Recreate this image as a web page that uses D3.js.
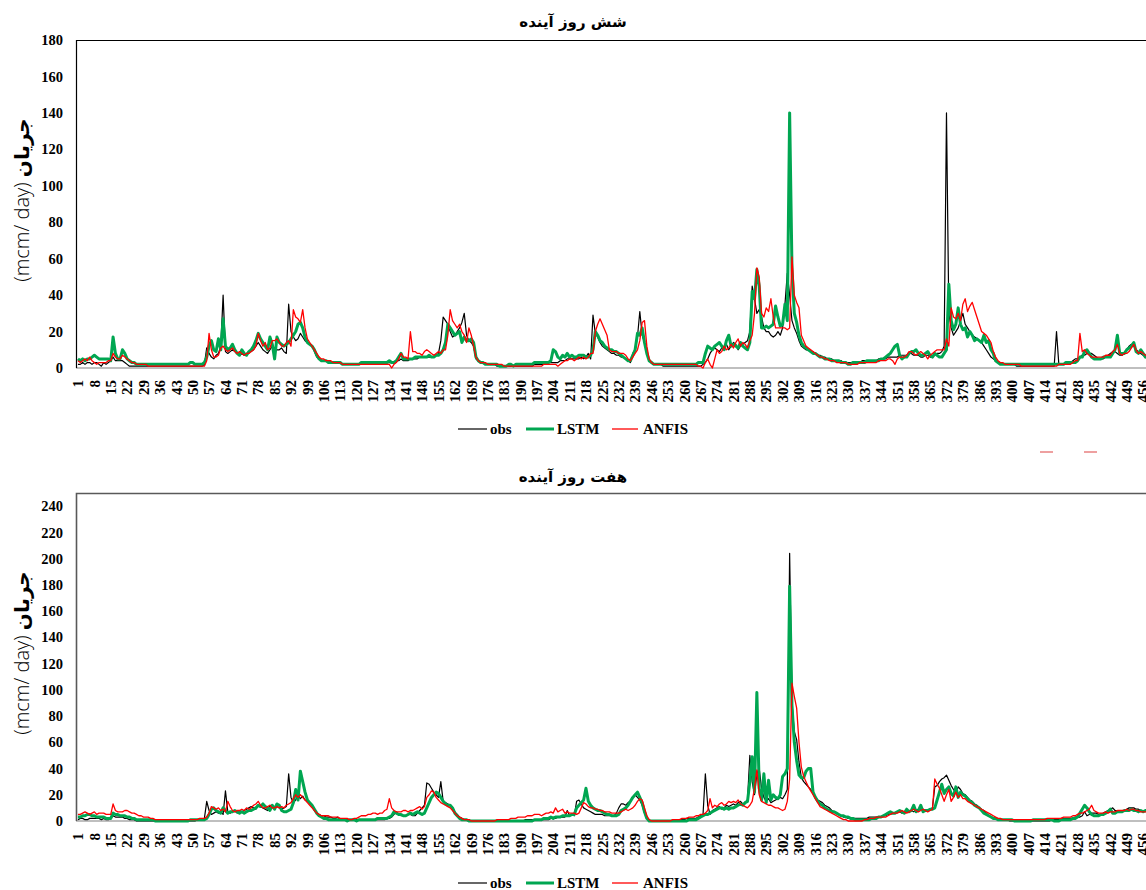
<!DOCTYPE html>
<html>
<head>
<meta charset="utf-8">
<script src="https://cdn.jsdelivr.net/npm/d3@7"></script>
<style>
  body { margin: 0; background: #fff; }
  svg { display: block; }
</style>
</head>
<body>
<div id="chart"></div>
<script>
const width = 1146
const height = 890

// day index (category axis), 460 days
const days = d3.range(1, 461)
const tickDays = d3.range(1, 457, 7)

// six days ahead
const obs6 = [
  2,2,3,2,3,3,2,3,3,2, 1,3,2,3,4,6,4,4,4,4, 3,2,1,1,1,1,1,1,1,1, 1,1,1,1,1,1,1,1,1,1,
  1,1,1,1,1,1,1,1,1,1, 1,1,1,1,2,11,8,6,5,7, 8,12,40,9,8,9,10,9,8,7, 8,7,8,9,9,10,12,14,12,10,
  9,8,10,12,11,10,10,11,9,8, 35,20,17,15,16,19,17,15,14,13, 12,9,6,5,4,4,4,3,3,3, 3,3,3,2,2,2,2,2,2,2,
  2,2,2,2,2,2,2,2,2,2, 3,3,3,3,3,3,4,4,5,4, 4,4,5,5,5,5,6,6,6,6, 6,6,6,7,8,15,28,26,24,20,
  17,18,20,22,25,30,18,15,14,12, 5,4,3,3,2,2,2,2,2,1, 1,1,1,1,1,1,1,1,1,1, 1,1,1,1,1,2,2,2,2,2,
  2,3,3,3,3,3,4,4,4,5, 5,5,5,5,5,6,5,6,8,5, 29,19,17,14,12,11,10,9,8,8, 7,7,6,6,5,4,3,8,10,17,
  31,18,14,8,4,3,2,2,2,2, 1,1,1,1,1,1,1,1,1,1, 1,1,1,1,1,1,1,2,3,5, 8,10,11,10,9,11,12,13,10,12,
  14,13,10,12,13,14,15,20,45,38, 30,32,28,22,20,20,18,17,18,20, 18,22,35,52,40,26,22,19,15,12, 11,10,10,9,9,8,7,7,6,6,
  5,5,5,4,4,4,4,3,3,3, 3,3,3,3,3,4,4,4,4,4, 4,4,5,5,5,5,6,6,6,6, 6,7,7,7,7,8,8,7,7,7,
  6,6,7,7,6,6,7,8,8,9, 12,140,30,22,18,20,22,26,30,24, 22,20,18,17,16,15,14,12,10,8, 6,5,4,3,2,2,2,2,2,2,
  2,1,1,1,1,1,1,1,1,1, 1,1,1,1,1,1,1,1,20,2, 2,2,2,2,3,4,5,5,6,7, 7,8,8,8,7,6,5,5,5,6,
  7,8,9,9,8,7,7,8,10,12, 13,12,10,9,8,7,6,6,6,6
]
const lstm6 = [
  5,4,5,4,5,5,6,7,6,5, 5,5,5,5,4,17,8,5,5,10, 8,5,4,3,3,2,2,2,2,2, 2,2,2,2,2,2,2,2,2,2,
  2,2,2,2,2,2,2,2,3,3, 2,2,2,2,3,6,12,15,10,9, 16,10,27,12,10,11,13,10,8,7, 10,8,7,9,10,12,15,19,16,14,
  12,10,17,13,5,17,14,13,12,13, 14,16,18,20,24,25,22,17,14,13, 12,10,7,5,4,4,4,3,3,3, 3,3,3,2,2,2,2,2,2,2,
  2,3,3,3,3,3,3,3,3,3, 3,3,3,4,3,3,4,6,8,5, 5,5,5,5,6,6,6,6,6,6, 7,6,6,7,7,8,10,14,24,22,
  20,18,19,20,14,17,15,15,16,14, 6,4,3,3,2,2,2,2,2,2, 1,1,1,1,2,2,1,2,2,2, 2,2,2,2,2,3,3,3,3,3,
  3,3,4,10,9,6,5,7,6,8, 6,7,6,6,7,7,7,6,6,7, 10,20,18,15,14,12,11,10,10,9, 9,8,7,6,5,4,4,7,10,19,
  18,22,14,8,4,3,2,2,2,2, 2,2,2,2,2,2,2,2,2,2, 2,2,2,2,2,3,3,3,8,12, 11,10,12,13,14,12,10,15,18,12,
  13,12,11,14,12,11,10,14,42,38, 54,45,22,22,23,22,23,24,34,28, 23,24,35,26,140,55,30,25,18,14, 12,11,10,9,8,8,7,6,6,5,
  5,5,4,4,4,4,3,3,3,2, 2,3,3,3,3,3,3,4,4,4, 4,4,4,5,5,6,7,8,10,12, 13,7,5,6,6,8,9,9,10,8,
  7,7,8,9,7,6,8,7,6,6, 8,10,46,26,21,24,33,24,21,22, 17,20,18,15,16,15,14,18,14,15, 10,8,4,3,2,2,2,2,2,2,
  2,2,2,2,2,2,2,2,2,2, 2,2,2,2,2,2,2,2,2,2, 2,2,3,3,3,3,3,4,6,6, 9,10,8,6,5,5,5,5,6,6,
  6,6,8,10,18,8,8,8,10,11, 12,14,9,8,10,8,6,8,7,7
]
const anfis6 = [
  4,3,4,5,4,6,4,3,2,3, 3,3,3,4,4,8,6,5,5,7, 6,5,4,3,3,2,2,2,2,2, 1,1,1,1,1,1,1,1,1,1,
  1,1,1,1,1,1,1,1,1,1, 1,1,1,1,1,4,19,10,6,6, 7,11,12,10,9,10,11,9,8,9, 8,7,8,8,9,10,12,19,15,12,
  14,10,11,15,15,16,14,12,12,14, 15,12,32,28,27,25,32,22,16,14, 12,10,8,6,5,5,4,4,4,3, 3,3,3,2,2,2,2,2,2,2,
  2,2,2,2,2,2,2,2,2,2, 2,2,2,2,0,2,3,5,8,6, 6,5,20,9,9,8,8,7,9,10, 9,8,7,8,9,8,10,10,18,32,
  26,24,22,24,20,18,14,22,18,12, 6,4,3,3,3,2,2,2,2,2, 2,2,1,1,1,1,1,1,1,1, 1,1,1,1,1,1,1,1,1,2,
  2,2,2,2,2,1,2,3,4,4, 5,5,4,5,6,5,6,5,6,8, 8,20,24,27,24,21,18,10,9,9, 9,8,8,8,7,5,4,6,8,10,
  15,25,26,12,5,3,2,2,2,2, 2,2,2,2,2,2,2,2,2,2, 2,2,2,2,2,1,1,0,3,5, 2,0,5,10,8,9,12,10,11,13,
  11,14,16,12,14,13,11,15,18,30, 55,50,30,28,33,31,38,28,22,22, 22,22,22,21,22,61,40,36,33,18, 15,12,11,10,9,8,7,6,6,5,
  5,4,4,4,3,3,3,3,3,2, 2,2,2,2,3,3,3,3,3,3, 3,3,4,4,4,4,5,5,4,2, 5,6,6,6,7,9,9,8,7,8,
  9,8,7,5,7,8,9,10,10,10, 10,16,12,33,28,27,30,26,35,38, 31,34,36,32,28,24,20,19,18,16, 14,9,6,4,3,3,2,2,2,2,
  2,2,2,1,1,1,1,1,1,1, 1,1,1,1,1,1,1,1,1,2, 2,2,2,2,2,3,4,4,19,9, 10,8,7,6,6,6,6,6,6,7,
  7,7,9,10,13,8,7,8,8,9, 11,13,10,8,9,8,7,6,7,7
]

// seven days ahead
const obs7 = [
  1,2,2,1,1,2,2,2,2,2, 1,2,1,1,2,4,3,3,3,3, 2,2,1,1,1,0,0,0,0,0, 0,0,0,0,0,0,0,0,0,0,
  0,0,0,0,0,0,0,0,0,0, 0,1,1,1,2,15,8,5,6,7, 6,7,5,23,7,6,7,8,6,8, 7,8,9,10,11,10,9,12,11,10,
  9,8,12,11,10,11,10,9,10,11, 36,18,14,16,20,17,19,16,15,14, 12,8,6,5,4,4,3,3,3,2, 2,3,1,1,1,1,1,1,1,1,
  1,1,1,1,1,1,1,1,1,1, 1,1,2,2,3,5,7,5,4,4, 4,5,5,4,4,6,8,10,12,29, 28,25,22,20,18,30,15,14,13,12,
  10,7,5,3,2,1,1,1,0,0, 0,0,0,0,0,0,0,0,0,0, 0,0,0,0,0,0,0,0,0,0, 0,1,1,1,1,1,1,1,1,1,
  1,1,2,2,2,3,3,3,3,8, 4,5,4,15,16,13,10,9,8,7, 6,5,5,5,5,4,4,4,4,4, 6,10,13,13,12,14,15,18,20,18,
  16,12,6,2,0,0,0,0,0,0, 0,0,0,0,0,0,0,1,1,1, 2,2,2,2,2,3,4,5,36,12, 5,8,9,10,11,9,10,12,11,12,
  13,12,14,15,13,14,16,50,30,20, 36,40,25,18,15,17,14,15,16,17, 18,17,20,24,204,90,68,62,45,33, 30,28,26,24,21,18,16,15,14,12,
  11,10,8,7,6,5,4,3,3,2, 2,2,2,2,2,2,2,2,3,3, 3,3,3,3,4,4,5,5,6,6, 7,7,6,7,7,8,8,7,8,9,
  9,9,8,8,9,10,26,27,30,32, 33,35,31,27,24,22,26,24,21,20, 18,16,15,13,12,10,9,8,6,4, 3,2,2,1,1,1,1,1,0,0,
  0,0,0,0,0,0,0,0,0,0, 0,0,0,0,0,0,1,1,1,1, 2,2,2,2,2,2,3,3,3,4, 7,4,5,6,6,6,5,5,6,7,
  8,9,10,8,8,7,8,8,9,10, 10,10,9,9,8,8,8,8,8,8
]
const lstm7 = [
  3,3,4,4,5,5,4,4,3,3, 3,3,2,2,2,6,5,5,4,4, 4,3,3,2,2,1,1,1,1,1, 1,1,1,0,0,0,0,0,0,0,
  0,0,0,0,0,0,0,0,1,1, 1,1,1,1,1,2,5,9,10,8, 7,6,10,8,6,7,7,8,7,6, 7,6,7,8,8,9,10,12,11,13,
  11,10,8,12,9,13,12,8,7,7, 8,9,14,24,16,38,30,22,16,14, 12,9,6,4,3,2,2,1,1,1, 1,1,1,1,1,0,1,1,1,0,
  1,1,1,1,1,1,1,1,2,2, 2,2,2,3,4,7,6,5,5,4, 4,5,6,5,6,7,6,5,6,10, 14,18,20,22,21,18,15,13,12,12,
  10,6,4,2,1,1,1,0,0,0, 0,0,0,0,0,0,0,0,0,0, 0,0,0,0,0,0,0,0,0,0, 0,0,0,0,0,1,1,1,1,2,
  2,2,3,2,3,3,3,4,4,4, 4,5,5,10,12,14,16,25,15,12, 10,9,8,8,7,6,5,5,4,4, 4,5,8,9,10,12,15,18,20,22,
  18,14,7,2,0,0,0,0,0,0, 0,0,0,0,0,0,0,0,0,0, 0,1,1,1,1,2,3,4,5,5, 6,7,8,9,10,10,9,10,9,10,
  10,11,12,13,12,14,15,30,49,22, 98,25,16,36,14,31,16,20,18,17, 20,34,36,40,179,88,60,46,35,33, 33,38,40,40,22,18,15,13,12,10,
  9,8,7,7,6,5,4,4,3,3, 2,2,1,1,1,1,1,1,1,2, 2,2,3,3,4,5,6,7,6,6, 7,8,7,6,9,7,8,12,7,8,
  12,7,8,8,9,9,10,16,22,28, 21,24,26,21,19,26,18,22,20,19, 17,15,14,12,11,10,8,6,5,4, 3,2,2,1,1,1,1,1,1,1,
  0,0,0,0,0,0,0,0,1,1, 1,1,1,1,1,1,1,0,0,0, 1,1,1,1,1,2,2,3,6,9, 12,10,7,5,4,4,4,5,5,6,
  7,9,6,6,7,7,7,8,8,8, 9,8,8,7,8,7,8,7,7,7
]
const anfis7 = [
  5,5,6,7,6,5,6,7,5,6, 6,6,5,5,5,13,8,7,7,7, 8,8,7,6,6,5,4,4,3,3, 3,2,2,1,1,1,1,1,1,1,
  1,1,1,1,1,1,1,1,1,1, 1,1,2,2,2,3,6,11,10,9, 10,8,9,7,15,11,8,7,8,8, 9,8,10,9,10,12,13,15,12,10,
  10,11,12,10,10,11,10,11,10,12, 13,14,17,20,18,20,18,16,14,12, 10,8,6,5,4,4,4,4,3,3, 3,3,2,2,2,2,1,1,2,2,
  3,4,4,4,5,5,6,6,5,6, 6,8,9,17,10,8,7,7,7,8, 8,7,8,8,9,10,11,9,11,18, 20,23,22,18,16,14,13,12,11,10,
  8,6,4,3,2,1,1,1,0,0, 0,0,0,0,0,0,0,0,0,1, 1,1,1,1,1,2,2,2,3,3, 3,3,4,4,4,5,5,5,4,5,
  6,6,7,6,10,7,8,9,6,7, 6,6,6,5,6,10,14,13,11,10, 10,9,9,8,8,7,7,7,6,6, 6,6,7,8,9,8,9,10,12,15,
  17,16,10,4,1,0,0,0,0,0, 0,0,0,0,1,1,1,1,2,2, 2,3,3,3,4,4,5,5,6,8, 17,10,12,11,13,14,12,13,15,14,
  15,14,16,13,12,11,10,12,15,25, 39,20,15,14,13,12,12,11,10,10, 9,8,9,15,32,105,95,86,60,41, 34,30,26,23,20,17,14,11,10,9,
  8,7,6,5,4,3,2,1,1,0, 0,0,0,0,0,0,1,1,2,2, 2,3,3,3,3,3,4,5,6,6, 6,7,8,7,6,7,8,9,8,7,
  8,9,8,7,8,9,32,28,25,20, 15,20,24,15,18,22,18,20,17,17, 15,14,13,12,11,10,9,8,7,6, 5,4,3,2,2,1,1,1,1,1,
  1,1,1,1,1,1,1,1,1,1, 1,1,1,1,2,2,2,2,2,2, 2,3,3,3,3,4,4,5,6,6, 7,8,9,12,8,7,6,6,6,7,
  6,7,7,7,8,8,8,8,9,8, 9,9,8,8,7,7,7,7,7,7
]

const seriesNames = ['obs', 'LSTM', 'ANFIS']
const seriesColors = ['#000000', '#00a651', '#ff0000']
const seriesWidths = [1.2, 3, 1.3]

const svg = d3.select('#chart')
  .append('svg')
    .attr('width', width)
    .attr('height', height)

const x_scale = d3.scaleBand()
  .domain(days)
  .range([76.8, 76.8 + days.length * 2.341])
const xPos = d => x_scale(d) + x_scale.bandwidth() / 2

const serif = '"Liberation Serif", "Times New Roman", serif'

let drawPanel = p => {
  const y_scale = d3.scaleLinear()
    .domain([0, p.max])
    .range([p.bottom, p.top])
  const g = svg.append('g')

  // title
  g.append('text')
    .attr('x', 573)
    .attr('y', p.titleY)
    .attr('text-anchor', 'middle')
    .style('font-family', '"DejaVu Sans", sans-serif')
    .style('font-weight', 'bold')
    .style('font-size', '15px')
    .text(p.title)

  // y axis title
  const yt = g.append('text')
    .attr('transform', `translate(29,${(p.top + p.bottom) / 2 - 4}) rotate(-90)`)
    .attr('text-anchor', 'middle')
    .style('font-size', '20px')
  yt.append('tspan')
    .style('font-family', '"Open Sans", "DejaVu Sans", sans-serif')
    .style('font-weight', 300)
    .text('(mcm/ day) ')
  yt.append('tspan')
    .style('font-family', '"DejaVu Sans", sans-serif')
    .style('font-weight', 'bold')
    .text('جریان')

  // y axis
  g.append('g')
    .attr('transform', `translate(76,0)`)
    .call(d3.axisLeft(y_scale).tickValues(p.ticks).tickSize(0).tickPadding(13))
    .call(a => a.select('.domain').remove())
    .call(a => a.selectAll('text')
      .style('font-family', serif)
      .style('font-weight', 'bold')
      .style('font-size', '14.5px')
      .attr('fill', '#000'))

  // x axis labels
  g.append('g')
    .attr('transform', `translate(0,${p.bottom})`)
    .call(d3.axisBottom(x_scale).tickValues(tickDays).tickSize(0))
    .call(a => a.select('.domain').remove())
    .call(a => a.selectAll('text')
      .attr('transform', 'rotate(-90)')
      .attr('text-anchor', 'end')
      .attr('x', -12)
      .attr('y', 0)
      .attr('dy', '0.35em')
      .style('font-family', serif)
      .style('font-weight', 'bold')
      .style('font-size', '15px')
      .attr('fill', '#000'))

  // zero line
  g.append('line')
    .attr('x1', 76).attr('x2', width)
    .attr('y1', y_scale(0)).attr('y2', y_scale(0))
    .attr('stroke', '#bfbfbf')
    .attr('stroke-width', 2)

  // series lines
  const line = d3.line()
    .x((d, i) => xPos(days[i]))
    .y(d => y_scale(d))
  p.series.forEach((s, k) => {
    g.append('path')
      .datum(s)
      .attr('fill', 'none')
      .attr('stroke', seriesColors[k])
      .attr('stroke-width', seriesWidths[k])
      .attr('stroke-linejoin', 'round')
      .attr('d', line)
  })

  // plot frame: left and top edges
  g.append('path')
    .attr('d', `M${width},${p.top + 0.5}H76.5V${p.bottom}`)
    .attr('fill', 'none')
    .attr('stroke', p.frame)
    .attr('stroke-width', p.frameWidth)

  // legend
  const lx = [[458, 487, 490], [526, 554, 557], [612, 638, 643]]
  seriesNames.forEach((name, k) => {
    g.append('line')
      .attr('x1', lx[k][0]).attr('x2', lx[k][1])
      .attr('y1', p.legendY).attr('y2', p.legendY)
      .attr('stroke', seriesColors[k])
      .attr('stroke-width', seriesWidths[k])
    g.append('text')
      .attr('x', lx[k][2])
      .attr('y', p.legendY + 5)
      .style('font-family', serif)
      .style('font-weight', 'bold')
      .style('font-size', '15px')
      .text(name)
  })
}

drawPanel({
  title: 'شش روز آینده', titleY: 27,
  top: 40, bottom: 368, max: 180, ticks: d3.range(0, 181, 20),
  frame: '#000', frameWidth: 1.2, legendY: 429,
  series: [obs6, lstm6, anfis6]
})
drawPanel({
  title: 'هفت روز آینده', titleY: 482,
  top: 493, bottom: 821, max: 250, ticks: d3.range(0, 241, 20),
  frame: '#595959', frameWidth: 1.6, legendY: 883,
  series: [obs7, lstm7, anfis7]
})

// two stray pink dashes under the first panel
svg.selectAll('.dash')
  .data([[1040, 1053], [1084, 1097]])
  .enter().append('line')
    .attr('x1', d => d[0]).attr('x2', d => d[1])
    .attr('y1', 452).attr('y2', 452)
    .attr('stroke', '#e88080')
    .attr('stroke-width', 1.5)
</script>
</body>
</html>
